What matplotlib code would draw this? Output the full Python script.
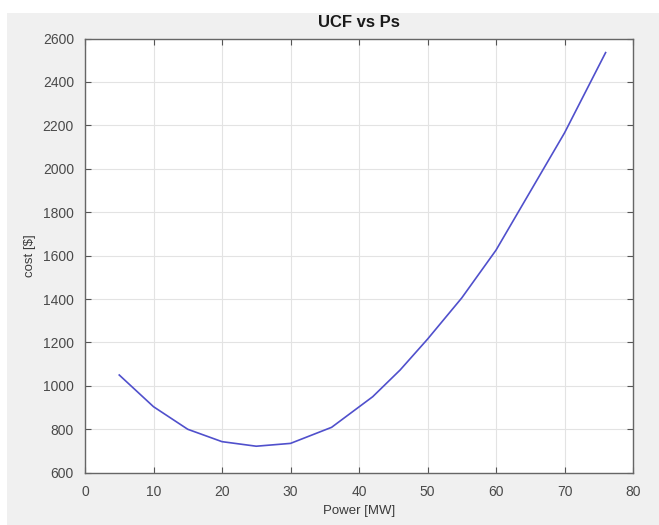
import matplotlib

matplotlib.use("Agg")
import matplotlib.pyplot as plt
from matplotlib.patches import Rectangle

# values
power_mw = [5, 10, 15, 20, 25, 30, 36, 42, 46, 50, 55, 60, 65, 70, 76]
cost_usd = [1050, 904, 800, 743, 722, 735, 809, 950, 1073, 1215, 1405, 1625, 1895, 2165, 2535]

x_ticks = [0, 10, 20, 30, 40, 50, 60, 70, 80]
y_ticks = [600, 800, 1000, 1200, 1400, 1600, 1800, 2000, 2200, 2400, 2600]

plt.rcParams["font.family"] = ["Liberation Sans", "DejaVu Sans"]

W, H = 659, 525
fig = plt.figure(figsize=(W / 100, H / 100), dpi=100, facecolor="white")
# MATLAB figure window: grey panel with a thin white strip top and left
fig.patches.append(Rectangle((7 / W, 0), 1, 1 - 13 / H, transform=fig.transFigure,
                             facecolor="#f0f0f0", edgecolor="none", zorder=-10))

ax = fig.add_axes([85 / W, 1 - 472.7 / H, (633 - 85) / W, (472.7 - 38.5) / H])
ax.set_facecolor("white")
ax.plot(power_mw, cost_usd, color="#5050cc", lw=1.2)

ax.set_xlim(0, 80)
ax.set_ylim(600, 2600)
ax.set_xticks(x_ticks)
ax.set_yticks(y_ticks)
ax.grid(True, color="#e3e3e3", lw=0.8)
ax.set_axisbelow(True)

ax.tick_params(direction="in", length=4, width=0.8, top=True, right=True,
               colors="#555555", labelsize=10, labelcolor="#4a4a4a")
ax.tick_params(axis="x", pad=9)
ax.tick_params(axis="y", pad=8)
for s in ax.spines.values():
    s.set_color("#666666")
    s.set_linewidth(1.0)

ax.set_title("UCF vs Ps", fontsize=12, fontweight="bold", color="#1a1a1a", pad=8)
ax.set_xlabel("Power [MW]", fontsize=9.5, color="#3a3a3a", labelpad=4)
ax.set_ylabel(r"cost [\$]", fontsize=9.5, color="#3a3a3a", labelpad=5)

fig.savefig("out.png", dpi=100, facecolor=fig.get_facecolor())
